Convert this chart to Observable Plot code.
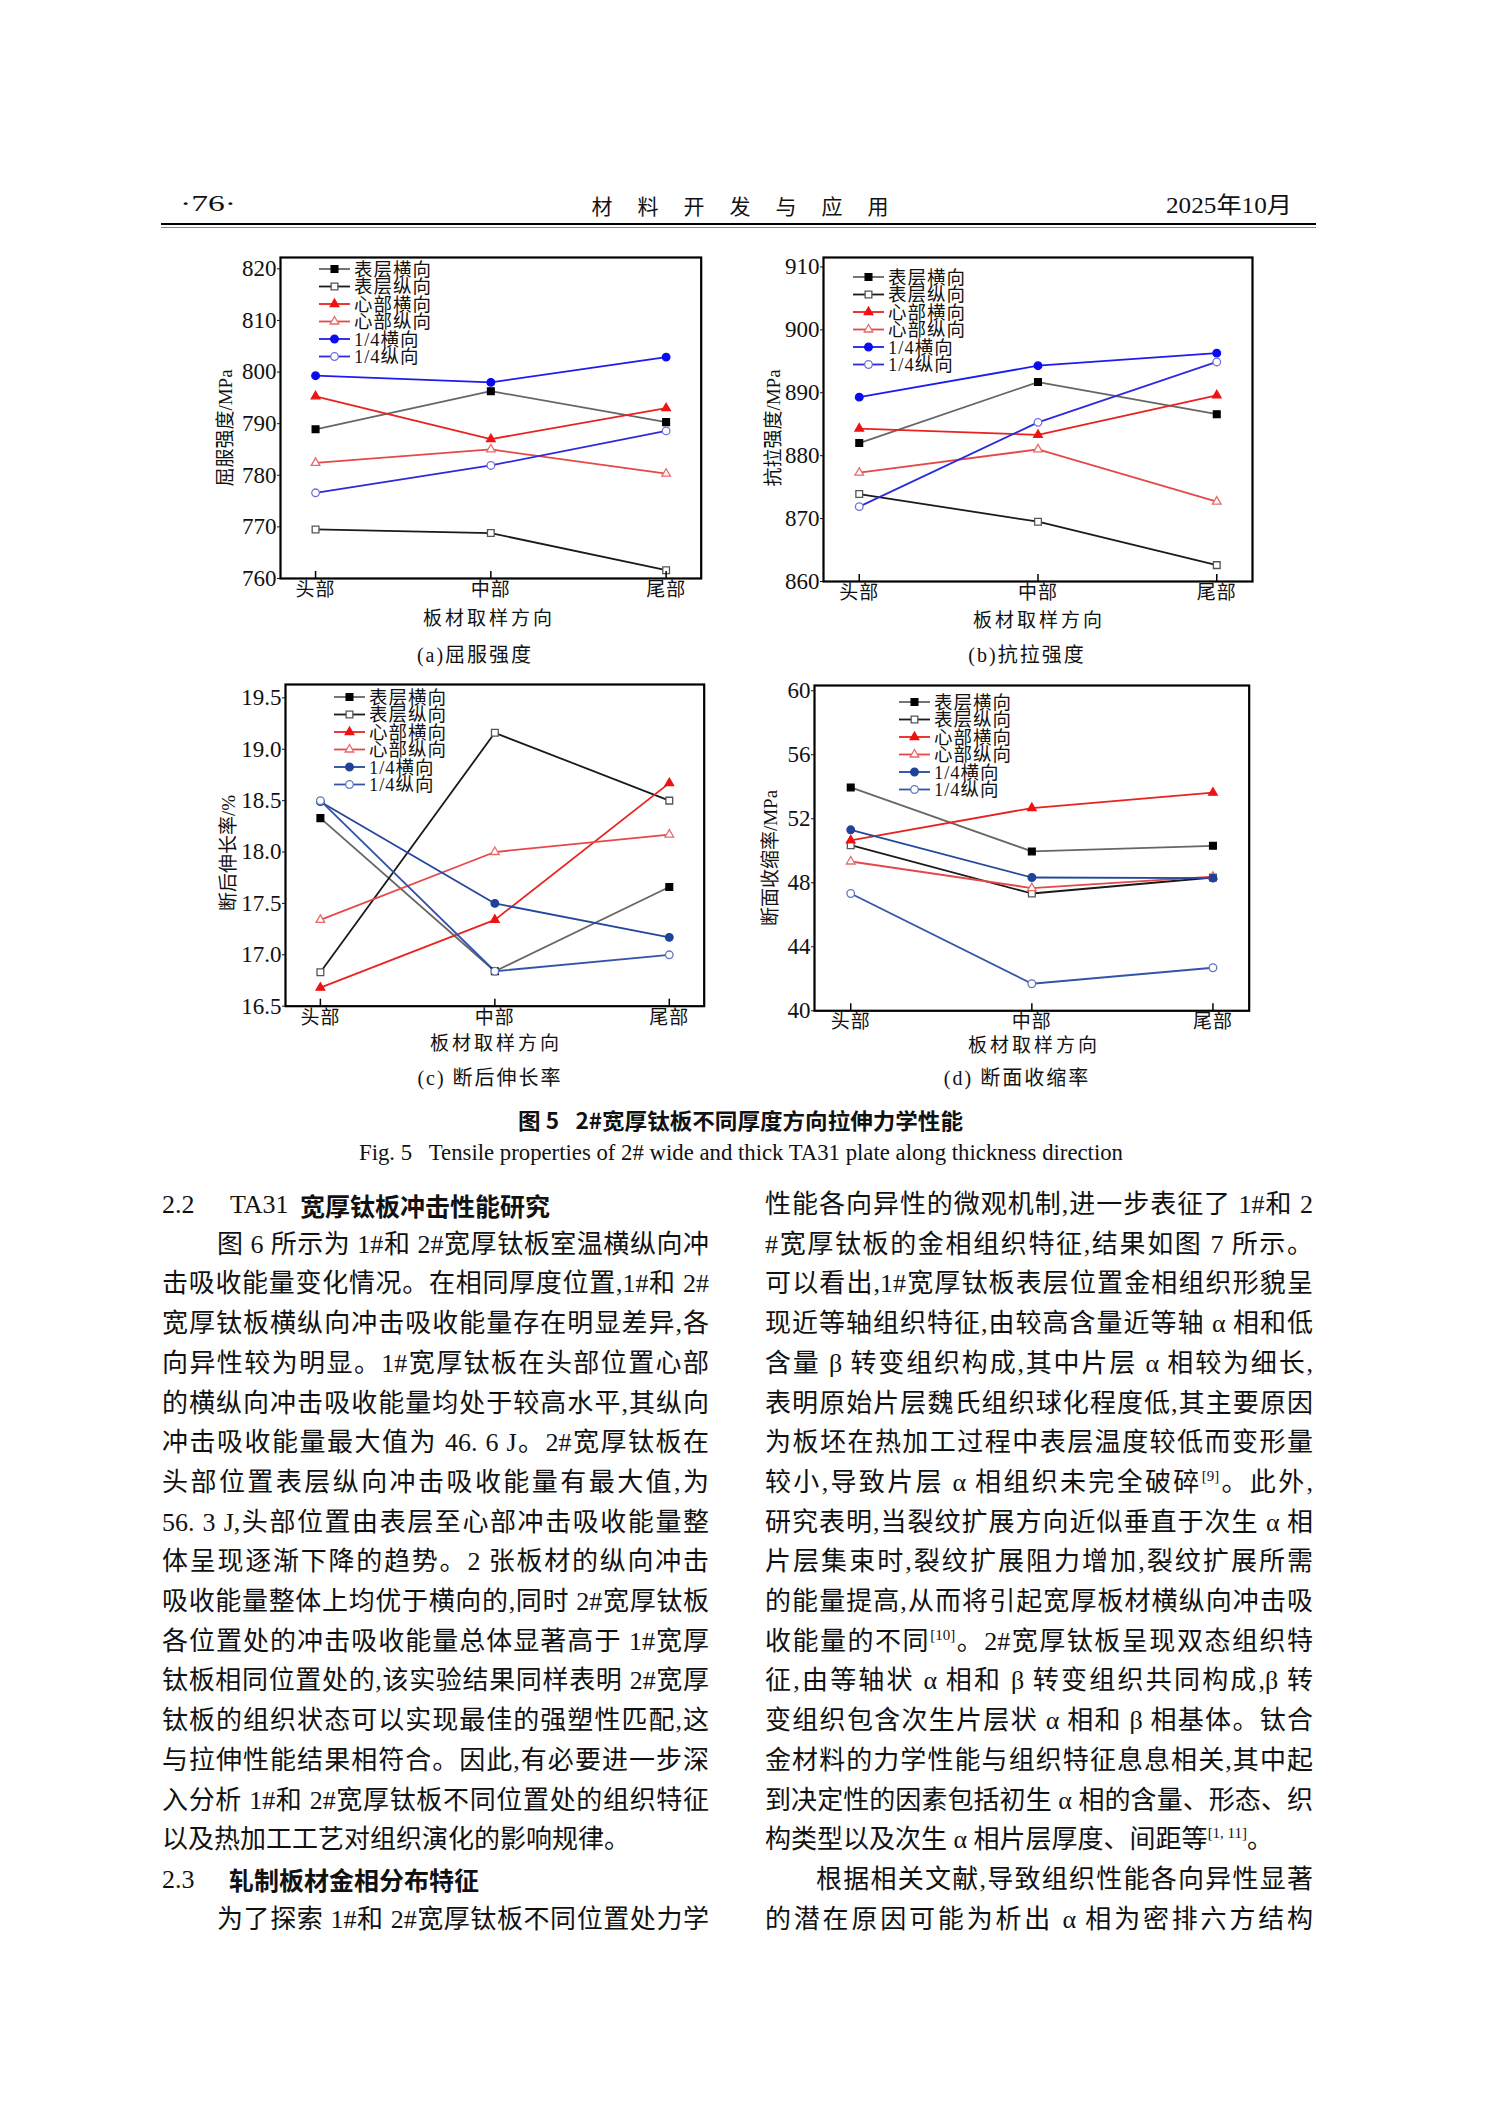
<!DOCTYPE html>
<html>
<head>
<meta charset="utf-8">
<script src="https://cdn.jsdelivr.net/npm/d3@7"></script>
<script src="https://cdn.jsdelivr.net/npm/@observablehq/plot@0.6"></script>
<style>
html, body { margin: 0; padding: 0; background: #fff; }
#page { position: relative; width: 1489px; height: 2106px; overflow: hidden; background: #fff;
  font-family: "Liberation Serif", "Noto Sans CJK SC", serif; color: #111; }
.abs { position: absolute; white-space: nowrap; }
.line { position: absolute; height: 40px; line-height: 40px; font-size: 26px; text-align: justify; text-align-last: justify; white-space: normal; overflow: visible; }
.line.last { text-align: left; text-align-last: left; }
.line sup { font-size: 15px; line-height: 0; vertical-align: 10px; }
</style>
</head>
<body>
<div id="page"></div>
<script>
// ---------------- data ----------------
const positions = ["头部", "中部", "尾部"];
const seriesNames = ["表层横向", "表层纵向", "心部横向", "心部纵向", "1/4横向", "1/4纵向"];

// rows: series in order of seriesNames; columns: 头部, 中部, 尾部
const yieldValues = [
  [788.9, 796.3, 790.3],
  [769.5, 768.8, 761.6],
  [795.3, 787.0, 793.0],
  [782.4, 785.0, 780.3],
  [799.3, 798.0, 802.9],
  [776.6, 781.9, 788.6]
];
const tensileValues = [
  [882.0, 891.7, 886.6],
  [873.9, 869.5, 862.6],
  [884.3, 883.3, 889.6],
  [877.3, 881.0, 872.7],
  [889.3, 894.3, 896.3],
  [871.9, 885.3, 894.9]
];
const elongValues = [
  [18.33, 16.84, 17.66],
  [16.83, 19.16, 18.50],
  [16.68, 17.34, 18.67],
  [17.34, 18.00, 18.17],
  [18.49, 17.50, 17.17],
  [18.50, 16.84, 17.00]
];
const reductionValues = [
  [53.96, 49.96, 50.31],
  [50.35, 47.33, 48.33],
  [50.65, 52.67, 53.63],
  [49.33, 47.67, 48.38],
  [51.31, 48.33, 48.29],
  [47.33, 41.69, 42.69]
];
const yieldTicks = [760, 770, 780, 790, 800, 810, 820];
const tensileTicks = [860, 870, 880, 890, 900, 910];
const elongTicks = [16.5, 17.0, 17.5, 18.0, 18.5, 19.0, 19.5];
const reductionTicks = [40, 44, 48, 52, 56, 60];

// ---------------- styles ----------------
const SERIF = '"Liberation Serif", "Noto Sans CJK SC", serif';
const CJK = '"Noto Sans CJK SC", sans-serif';
const symbols = ["square", "square", "triangle", "triangle", "circle", "circle"];
const symbolR = [3.8, 3.8, 3.2, 3.2, 3.8, 3.8];
function palette(dark) {
  return {
    line: ["#666666", "#1a1a1a", "#e8231f", "#e64848", dark ? "#24479e" : "#1c1cf0", dark ? "#3553a8" : "#2b2bdc"],
    fill: ["#000000", "#ffffff", "#f01212", "#ffffff", dark ? "#1f4398" : "#0b0bf2", "#ffffff"],
    stroke: ["#000000", "#555555", "#f01212", "#e86a6a", dark ? "#1f4398" : "#0b0bf2", dark ? "#6077bb" : "#7070dc"]
  };
}

const page = document.getElementById("page");

function addText(html, o) {
  const el = document.createElement("div");
  el.className = "abs";
  el.innerHTML = html;
  el.style.fontSize = (o.size || 20) + "px";
  el.style.fontFamily = o.family || SERIF;
  if (o.weight) el.style.fontWeight = o.weight;
  if (o.ls) el.style.letterSpacing = o.ls + "px";
  el.style.lineHeight = "1";
  el.style.whiteSpace = "pre";
  page.appendChild(el);
  const r = el.getBoundingClientRect();
  let w = r.width, h = r.height;
  if (o.rotate) {
    el.style.left = o.x + "px"; el.style.top = o.y + "px";
    el.style.transform = "translate(-50%,-50%) rotate(-90deg)";
    return el;
  }
  if (o.fit) {
    const s = o.fit / w;
    el.style.transformOrigin = "0 50%";
    el.style.transform = `scaleX(${s})`;
    w = o.fit;
  }
  let left = o.x;
  if (o.anchor === "middle") left = o.x - w / 2;
  else if (o.anchor === "end") left = o.x - w;
  el.style.left = left + "px";
  el.style.top = (o.y - h / 2) + "px";
  return el;
}

function makeChart(cfg) {
  const { values, ticks, fmt, domain, frame, legend, dark } = cfg;
  const pal = palette(dark);
  const mL = 80, mT = 12, mR = 20, mB = 32;
  const fw = frame.right - frame.left, fh = frame.bottom - frame.top;
  const rows = values.flatMap((vals, s) => vals.map((v, i) => ({ s, i, v })));
  const marks = [];
  seriesNames.forEach((name, s) => {
    marks.push(Plot.line(rows.filter(r => r.s === s), { x: "i", y: "v", stroke: pal.line[s], strokeWidth: 1.8 }));
  });
  seriesNames.forEach((name, s) => {
    marks.push(Plot.dot(rows.filter(r => r.s === s), {
      x: "i", y: "v", symbol: symbols[s], r: symbolR[s],
      fill: pal.fill[s], stroke: pal.stroke[s], strokeWidth: 1.3
    }));
  });
  marks.push(Plot.tickX([0, 1, 2], { x: d => d, insetTop: fh - 7, stroke: "#000", strokeWidth: 1.5 }));
  marks.push(Plot.frame({ stroke: "#000", strokeWidth: 2.2 }));
  marks.push(Plot.axisY({ ticks, tickFormat: fmt, tickSize: 3, tickPadding: 1, fontSize: 23, fontFamily: SERIF, label: null }));
  marks.push(Plot.axisX({ ticks: [0, 1, 2], tickFormat: i => positions[i], tickSize: 0, tickPadding: 4, fontSize: 19, fontFamily: SERIF, label: null }));

  const svg = Plot.plot({
    width: fw + mL + mR, height: fh + mT + mB,
    marginLeft: mL, marginRight: mR, marginTop: mT, marginBottom: mB,
    x: { type: "linear", domain: [-0.2, 2.2] },
    y: { type: "linear", domain },
    style: { fontFamily: SERIF, fontSize: "21px", background: "transparent", overflow: "visible", color: "#111" },
    marks
  });
  d3.select(svg).selectAll('g[aria-label="y-axis tick label"] text').attr("font-size", 23).style("font-size", "23px");
  d3.select(svg).selectAll('g[aria-label="x-axis tick label"] text').attr("font-size", 19).style("font-size", "19px").attr("letter-spacing", 1);

  // legend inside frame
  const g = d3.select(svg).append("g").attr("transform", `translate(${mL + legend.dx},${mT + legend.dy})`);
  const symMap = { square: d3.symbolSquare, triangle: d3.symbolTriangle, circle: d3.symbolCircle };
  seriesNames.forEach((name, s) => {
    const y = s * 17.5;
    g.append("line").attr("x1", 0).attr("x2", 31).attr("y1", y).attr("y2", y)
      .attr("stroke", pal.line[s]).attr("stroke-width", 1.8);
    g.append("path").attr("d", d3.symbol(symMap[symbols[s]], Math.PI * symbolR[s] ** 2)())
      .attr("transform", `translate(15.5,${y})`)
      .attr("fill", pal.fill[s]).attr("stroke", pal.stroke[s]).attr("stroke-width", 1.3);
    g.append("text").attr("x", 35).attr("y", y).attr("dy", "0.36em")
      .attr("text-anchor", "start")
      .style("font-size", "18.5px").attr("font-family", SERIF).attr("letter-spacing", 1)
      .attr("fill", "#111").text(name);
  });

  const wrap = document.createElement("div");
  wrap.style.position = "absolute";
  wrap.style.left = (frame.left - mL) + "px";
  wrap.style.top = (frame.top - mT) + "px";
  wrap.appendChild(svg);
  page.appendChild(wrap);
}

// ---------------- header ----------------
addText("·76·", { x: 180, y: 203, size: 24, anchor: "start", fit: 56 });
(function () {
  const chars = "材料开发与应用".split("");
  const left = 591.5, right = 888.5;
  const step = (right - left - 21) / (chars.length - 1);
  chars.forEach((c, i) => addText(c, { x: left + 10.5 + i * step, y: 205, size: 21, family: CJK, anchor: "middle" }));
})();
addText("2025年10月", { x: 1166, y: 205, size: 23, anchor: "start", fit: 126 });
(function () {
  const r1 = document.createElement("div");
  r1.style.cssText = "position:absolute;left:161px;width:1155px;top:223px;height:2px;background:#000;";
  const r2 = document.createElement("div");
  r2.style.cssText = "position:absolute;left:161px;width:1155px;top:226.5px;height:1px;background:#888;";
  page.appendChild(r1); page.appendChild(r2);
})();

// ---------------- charts ----------------
makeChart({ values: yieldValues, ticks: yieldTicks, fmt: d3.format("d"), domain: [760, 822.2],
  frame: { left: 280, right: 700.7, top: 257, bottom: 578 }, legend: { dx: 39, dy: 12 }, dark: false });
makeChart({ values: tensileValues, ticks: tensileTicks, fmt: d3.format("d"), domain: [860, 911.5],
  frame: { left: 822.7, right: 1251.7, top: 257, bottom: 581 }, legend: { dx: 30, dy: 20 }, dark: false });
makeChart({ values: elongValues, ticks: elongTicks, fmt: d3.format(".1f"), domain: [16.5, 19.63],
  frame: { left: 285.3, right: 704, top: 684, bottom: 1005.7 }, legend: { dx: 49, dy: 13 }, dark: true });
makeChart({ values: reductionValues, ticks: reductionTicks, fmt: d3.format("d"), domain: [40, 60.33],
  frame: { left: 814, right: 1248.7, top: 684.7, bottom: 1010 }, legend: { dx: 85, dy: 17 }, dark: true });

// axis titles
addText("屈服强度/MPa", { x: 225, y: 428, size: 19, rotate: true });
addText("抗拉强度/MPa", { x: 773, y: 428, size: 19, rotate: true });
addText("断后伸长率/%", { x: 228, y: 853, size: 19, rotate: true });
addText("断面收缩率/MPa", { x: 770, y: 858, size: 19, rotate: true });
addText("板材取样方向", { x: 489, y: 618, size: 19, ls: 3, anchor: "middle" });
addText("板材取样方向", { x: 1039, y: 620, size: 19, ls: 3, anchor: "middle" });
addText("板材取样方向", { x: 496, y: 1043, size: 19, ls: 3, anchor: "middle" });
addText("板材取样方向", { x: 1034, y: 1045, size: 19, ls: 3, anchor: "middle" });
// sub captions
addText("(a)屈服强度", { x: 475, y: 655, size: 20, ls: 2, anchor: "middle" });
addText("(b)抗拉强度", { x: 1027, y: 655, size: 20, ls: 2, anchor: "middle" });
addText("(c) 断后伸长率", { x: 490, y: 1078, size: 20, ls: 2, anchor: "middle" });
addText("(d) 断面收缩率", { x: 1017, y: 1078, size: 20, ls: 2, anchor: "middle" });

// figure caption
addText("图 5\u2002 2#宽厚钛板不同厚度方向拉伸力学性能", { x: 518, y: 1119, size: 22, family: CJK, weight: "bold", anchor: "start", fit: 445 });
addText("Fig. 5\u2002 Tensile properties of 2# wide and thick TA31 plate along thickness direction", { x: 359, y: 1152, size: 23, anchor: "start", fit: 764 });

// ---------------- body text ----------------
const LEFT = { x: 162, w: 547 };
const RIGHT = { x: 765, w: 548 };
const y0 = 1205, pitch = 39.7;

const leftLines = [
  { head: ["2.2", "TA31 ", "宽厚钛板冲击性能研究"] },
  { t: "图 6 所示为 1#和 2#宽厚钛板室温横纵向冲", indent: 55 },
  { t: "击吸收能量变化情况。在相同厚度位置,1#和 2#" },
  { t: "宽厚钛板横纵向冲击吸收能量存在明显差异,各" },
  { t: "向异性较为明显。1#宽厚钛板在头部位置心部" },
  { t: "的横纵向冲击吸收能量均处于较高水平,其纵向" },
  { t: "冲击吸收能量最大值为 46. 6 J。2#宽厚钛板在" },
  { t: "头部位置表层纵向冲击吸收能量有最大值,为" },
  { t: "56. 3 J,头部位置由表层至心部冲击吸收能量整" },
  { t: "体呈现逐渐下降的趋势。2 张板材的纵向冲击" },
  { t: "吸收能量整体上均优于横向的,同时 2#宽厚钛板" },
  { t: "各位置处的冲击吸收能量总体显著高于 1#宽厚" },
  { t: "钛板相同位置处的,该实验结果同样表明 2#宽厚" },
  { t: "钛板的组织状态可以实现最佳的强塑性匹配,这" },
  { t: "与拉伸性能结果相符合。因此,有必要进一步深" },
  { t: "入分析 1#和 2#宽厚钛板不同位置处的组织特征" },
  { t: "以及热加工工艺对组织演化的影响规律。", last: true },
  { head: ["2.3", "", "轧制板材金相分布特征"] },
  { t: "为了探索 1#和 2#宽厚钛板不同位置处力学", indent: 55 }
];
const rightLines = [
  { t: "性能各向异性的微观机制,进一步表征了 1#和 2" },
  { t: "#宽厚钛板的金相组织特征,结果如图 7 所示。" },
  { t: "可以看出,1#宽厚钛板表层位置金相组织形貌呈" },
  { t: "现近等轴组织特征,由较高含量近等轴 α 相和低" },
  { t: "含量 β 转变组织构成,其中片层 α 相较为细长," },
  { t: "表明原始片层魏氏组织球化程度低,其主要原因" },
  { t: "为板坯在热加工过程中表层温度较低而变形量" },
  { t: "较小,导致片层 α 相组织未完全破碎<sup>[9]</sup>。此外," },
  { t: "研究表明,当裂纹扩展方向近似垂直于次生 α 相" },
  { t: "片层集束时,裂纹扩展阻力增加,裂纹扩展所需" },
  { t: "的能量提高,从而将引起宽厚板材横纵向冲击吸" },
  { t: "收能量的不同<sup>[10]</sup>。2#宽厚钛板呈现双态组织特" },
  { t: "征,由等轴状 α 相和 β 转变组织共同构成,β 转" },
  { t: "变组织包含次生片层状 α 相和 β 相基体。钛合" },
  { t: "金材料的力学性能与组织特征息息相关,其中起" },
  { t: "到决定性的因素包括初生 α 相的含量、形态、织" },
  { t: "构类型以及次生 α 相片层厚度、间距等<sup>[1, 11]</sup>。", last: true },
  { t: "根据相关文献,导致组织性能各向异性显著", indent: 51 },
  { t: "的潜在原因可能为析出 α 相为密排六方结构" }
];

function renderColumn(col, lines) {
  lines.forEach((ln, k) => {
    const cy = y0 + pitch * k;
    if (ln.head) {
      addText(ln.head[0], { x: col.x, y: cy, size: 26, anchor: "start" });
      if (ln.head[1]) {
        addText(ln.head[1], { x: col.x + 68, y: cy, size: 26, anchor: "start" });
        addText(ln.head[2], { x: col.x + 138, y: cy, size: 25, family: CJK, weight: "bold", anchor: "start" });
      } else {
        addText(ln.head[2], { x: col.x + 67, y: cy, size: 25, family: CJK, weight: "bold", anchor: "start" });
      }
      return;
    }
    const el = document.createElement("div");
    el.className = "line" + (ln.last ? " last" : "");
    const ind = ln.indent || 0;
    el.style.left = (col.x + ind) + "px";
    el.style.width = (col.w - ind) + "px";
    el.style.top = (cy - 20) + "px";
    el.innerHTML = ln.t;
    page.appendChild(el);
    let fs = 26;
    while (el.scrollHeight > 48 && fs > 20) {
      fs -= 0.5;
      el.style.fontSize = fs + "px";
    }
  });
}
renderColumn(LEFT, leftLines);
renderColumn(RIGHT, rightLines);
</script>
</body>
</html>
